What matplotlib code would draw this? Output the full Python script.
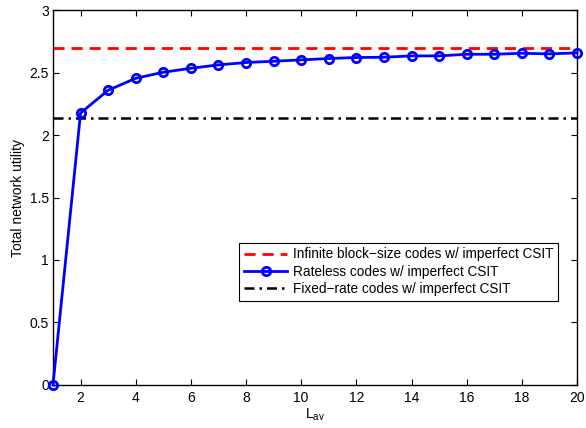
import matplotlib
matplotlib.use("Agg")
import matplotlib.pyplot as plt
import numpy as np

plt.rcParams['font.family'] = ['Liberation Sans', 'DejaVu Sans']
plt.rcParams['mathtext.default'] = 'regular'

L_av = list(range(1, 21))
rateless = [0.0, 2.176, 2.358, 2.454, 2.502, 2.534, 2.561, 2.580, 2.590, 2.601,
            2.612, 2.620, 2.622, 2.633, 2.633, 2.646, 2.646, 2.654, 2.649, 2.657]
infinite_val = 2.70
fixed_val = 2.14

labels = ['Infinite block\u2212size codes w/ imperfect CSIT',
          'Rateless codes w/ imperfect CSIT',
          'Fixed\u2212rate codes w/ imperfect CSIT']

fig = plt.figure(figsize=(5.86, 4.28), dpi=100)
ax = fig.add_axes([0.0904, 0.1005, 0.8942, 0.8761])

ax.plot([1, 20], [infinite_val, infinite_val], color='red', ls=(0, (4, 2.5)), lw=2, label=labels[0])
ax.plot(L_av, rateless, color='blue', lw=2, marker='o', markersize=6,
        markerfacecolor='none', markeredgewidth=2, label=labels[1], clip_on=False, zorder=5)
ax.plot([1, 20], [fixed_val, fixed_val], color='black', ls=(0, (4, 2, 1, 2)), lw=1.8, label=labels[2])

ax.set_xlim(1, 20)
ax.set_ylim(0, 3)
ax.set_xticks(np.arange(2, 21, 2))
ax.set_yticks([0, 0.5, 1, 1.5, 2, 2.5, 3])
ax.set_yticklabels(['0', '0.5', '1', '1.5', '2', '2.5', '3'])
ax.tick_params(direction='in', top=True, right=True, labelsize=10, length=4, pad=4.5)
ax.tick_params(axis='y', pad=3)
for s in ax.spines.values():
    s.set_linewidth(1.0)

ax.set_xlabel('L$_{av}$', fontsize=10, labelpad=1)
ax.set_ylabel('Total network utility', fontsize=10, labelpad=3)

leg = ax.legend(loc='lower right', bbox_to_anchor=(0.964, 0.224), fontsize=9.8,
                frameon=True, fancybox=False, edgecolor='black', framealpha=1,
                borderpad=0.35, labelspacing=0.25, handlelength=3.2, handletextpad=0.4,
                borderaxespad=0)
leg.get_frame().set_linewidth(0.8)

fig.savefig('out.png', dpi=100)
